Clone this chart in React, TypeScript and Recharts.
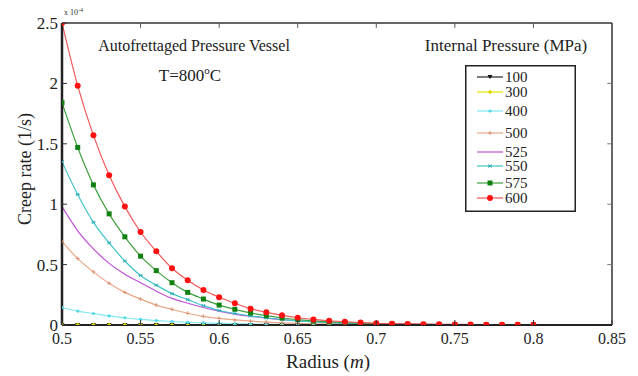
import { LineChart, Line, XAxis, YAxis, ReferenceLine } from 'recharts'

const radius = [0.5, 0.51, 0.52, 0.53, 0.54, 0.55, 0.56, 0.57, 0.58, 0.59, 0.6, 0.61, 0.62, 0.63, 0.64, 0.65, 0.66, 0.67, 0.68, 0.69, 0.7, 0.71, 0.72, 0.73, 0.74, 0.75, 0.76, 0.77, 0.78, 0.79, 0.8]

// creep rate, in units of 1e-4 1/s
const p100 = [0, 0, 0, 0, 0, 0, 0, 0, 0, 0, 0, 0, 0, 0, 0, 0, 0, 0, 0, 0, 0, 0, 0, 0, 0, 0, 0, 0, 0, 0, 0]
const p300 = [0.004, 0.003, 0.003, 0.002, 0.002, 0.002, 0.001, 0.001, 0.001, 0.001, 0.001, 0.001, 0, 0, 0, 0, 0, 0, 0, 0, 0, 0, 0, 0, 0, 0, 0, 0, 0, 0, 0]
const p400 = [0.145, 0.115, 0.095, 0.075, 0.06, 0.047, 0.037, 0.029, 0.022, 0.017, 0.013, 0.01, 0.008, 0.006, 0.005, 0.004, 0.003, 0.002, 0.002, 0.001, 0.001, 0.001, 0.001, 0, 0, 0, 0, 0, 0, 0, 0]
const p500 = [0.69, 0.55, 0.44, 0.345, 0.27, 0.215, 0.165, 0.13, 0.097, 0.072, 0.055, 0.042, 0.032, 0.024, 0.018, 0.014, 0.01, 0.008, 0.006, 0.004, 0.003, 0.002, 0.002, 0.001, 0.001, 0.001, 0.001, 0, 0, 0, 0]
const p525 = [0.98, 0.78, 0.63, 0.51, 0.42, 0.35, 0.28, 0.22, 0.18, 0.145, 0.115, 0.09, 0.072, 0.057, 0.045, 0.035, 0.027, 0.021, 0.016, 0.012, 0.009, 0.007, 0.005, 0.004, 0.003, 0.002, 0.002, 0.001, 0.001, 0.001, 0.001]
const p550 = [1.35, 1.08, 0.85, 0.68, 0.53, 0.41, 0.33, 0.26, 0.21, 0.16, 0.12, 0.095, 0.075, 0.058, 0.045, 0.034, 0.026, 0.02, 0.015, 0.011, 0.008, 0.006, 0.005, 0.004, 0.003, 0.002, 0.002, 0.001, 0.001, 0.001, 0.001]
const p575 = [1.84, 1.47, 1.16, 0.92, 0.73, 0.57, 0.45, 0.35, 0.27, 0.215, 0.165, 0.13, 0.1, 0.077, 0.058, 0.045, 0.034, 0.026, 0.02, 0.015, 0.011, 0.008, 0.006, 0.005, 0.004, 0.003, 0.002, 0.002, 0.001, 0.001, 0.001]
const p600 = [2.5, 1.98, 1.57, 1.24, 0.98, 0.77, 0.61, 0.47, 0.37, 0.29, 0.23, 0.18, 0.135, 0.105, 0.08, 0.06, 0.046, 0.035, 0.027, 0.02, 0.014, 0.011, 0.009, 0.007, 0.006, 0.005, 0.004, 0.003, 0.003, 0.002, 0.002]

const xTicks = [0.5, 0.55, 0.6, 0.65, 0.7, 0.75, 0.8, 0.85]
const yTicks = [0, 0.5, 1, 1.5, 2, 2.5]

const data = radius.map((r, i) => ({
    r,
    p100: p100[i],
    p300: p300[i],
    p400: p400[i],
    p500: p500[i],
    p525: p525[i],
    p550: p550[i],
    p575: p575[i],
    p600: p600[i],
}))

const FONT = '"Liberation Serif", "Times New Roman", serif'
const X_MIN = 0.5
const X_MAX = 0.85
const Y_MIN = 0
const Y_MAX = 2.5

type Shape = 'tri' | 'diamond' | 'dot' | 'plus' | 'none' | 'star' | 'square' | 'circle'

const series: { key: string; name: string; line: string; mark: string; shape: Shape }[] = [
    { key: 'p100', name: '100', line: '#222222', mark: '#111111', shape: 'tri' },
    { key: 'p300', name: '300', line: '#e8e800', mark: '#d8d800', shape: 'diamond' },
    { key: 'p400', name: '400', line: '#7ee8f2', mark: '#50d8e8', shape: 'dot' },
    { key: 'p500', name: '500', line: '#e8a888', mark: '#d89070', shape: 'plus' },
    { key: 'p525', name: '525', line: '#c050d8', mark: '#c050d8', shape: 'none' },
    { key: 'p550', name: '550', line: '#40c4c8', mark: '#30b0b8', shape: 'star' },
    { key: 'p575', name: '575', line: '#40a040', mark: '#108010', shape: 'square' },
    { key: 'p600', name: '600', line: '#f05858', mark: '#ff1010', shape: 'circle' },
]

function marker(shape: Shape, cx: number, cy: number, color: string, key?: string) {
    switch (shape) {
        case 'tri':
            return <path key={key} d={`M${cx - 2.5},${cy - 2}L${cx + 2.5},${cy - 2}L${cx},${cy + 2}Z`} fill={color} />
        case 'diamond':
            return <path key={key} d={`M${cx},${cy - 2.2}L${cx + 2.2},${cy}L${cx},${cy + 2.2}L${cx - 2.2},${cy}Z`} fill={color} />
        case 'dot':
            return <circle key={key} cx={cx} cy={cy} r={1.6} fill={color} />
        case 'plus':
            return <path key={key} d={`M${cx - 2},${cy}H${cx + 2}M${cx},${cy - 2}V${cy + 2}`} stroke={color} strokeWidth={0.9} />
        case 'star':
            return <path key={key} d={`M${cx - 1.6},${cy - 1.6}L${cx + 1.6},${cy + 1.6}M${cx - 1.6},${cy + 1.6}L${cx + 1.6},${cy - 1.6}M${cx - 2},${cy}H${cx + 2}`} stroke={color} strokeWidth={1} />
        case 'square':
            return <rect key={key} x={cx - 2.5} y={cy - 2.5} width={5} height={5} fill={color} />
        case 'circle':
            return <circle key={key} cx={cx} cy={cy} r={3} fill={color} />
        default:
            return <g key={key} />
    }
}

const makeDot = (shape: Shape, color: string) => (props: any) => {
    const { cx, cy, index } = props
    if (cx == null || cy == null) return <g key={`d${index}`} />
    return marker(shape, cx, cy, color, `d${index}`)
}

const BottomTick = (props: any) => {
    const { x, y, payload } = props
    return (
        <g>
            <line x1={x} x2={x} y1={y - 7} y2={y - 12} stroke="#333" />
            <text x={x} y={y} dy="0.75em" textAnchor="middle" fontFamily={FONT} fontSize={16} fill="#222">
                {payload.value}
            </text>
        </g>
    )
}

const LeftTick = (props: any) => {
    const { x, y, payload } = props
    return (
        <g>
            <line x1={x + 4} x2={x + 9} y1={y} y2={y} stroke="#333" />
            <text x={x} y={y} dy="0.35em" textAnchor="end" fontFamily={FONT} fontSize={17} fill="#222">
                {payload.value}
            </text>
        </g>
    )
}

// legend rows sit at uneven heights in the original
const legendRowY = [12, 27, 46, 68, 87, 101, 118, 133]

function PressureLegend() {
    return (
        <svg width={111} height={147} style={{ position: 'absolute', left: 465, top: 65, display: 'block' }}>
            <rect x={0.75} y={0.75} width={109.5} height={145.5} fill="#fff" stroke="#222" strokeWidth={1.5} />
            {series.map((s, i) => (
                <g key={s.key}>
                    <line x1={12} x2={38} y1={legendRowY[i]} y2={legendRowY[i]} stroke={s.line} strokeWidth={1.2} />
                    {marker(s.shape, 25, legendRowY[i], s.mark)}
                    <text x={40} y={legendRowY[i]} dy="0.35em" fontFamily={FONT} fontSize={15} fill="#222">
                        {s.name}
                    </text>
                </g>
            ))}
        </svg>
    )
}

// inner tick length on the top and right frame, in data units
const TOP_TICK = 0.04
const RIGHT_TICK = 0.003

export default function App() {
    return (
        <div style={{ position: 'absolute', left: 0, top: 0, width: 638, height: 376, background: '#fff', fontFamily: FONT }}>
            <LineChart width={638} height={376} data={data} margin={{ top: 23, right: 26, bottom: 21, left: 22 }}>
                <XAxis
                    dataKey="r"
                    type="number"
                    domain={[X_MIN, X_MAX]}
                    ticks={xTicks}
                    height={30}
                    tickSize={0}
                    tickMargin={7}
                    tickLine={false}
                    axisLine={{ stroke: '#222', strokeWidth: 2 }}
                    tick={<BottomTick />}
                    allowDataOverflow
                />
                <YAxis
                    type="number"
                    domain={[Y_MIN, Y_MAX]}
                    ticks={yTicks}
                    width={40}
                    tickSize={0}
                    tickMargin={4}
                    tickLine={false}
                    axisLine={{ stroke: '#222', strokeWidth: 2.5 }}
                    tick={<LeftTick />}
                    allowDataOverflow
                />
                <ReferenceLine y={Y_MAX} stroke="#333" strokeWidth={1.5} />
                <ReferenceLine x={X_MAX} stroke="#333" strokeWidth={1.5} />
                {xTicks.slice(1, -1).map((t) => (
                    <ReferenceLine
                        key={`tx${t}`}
                        segment={[{ x: t, y: Y_MAX }, { x: t, y: Y_MAX - TOP_TICK }]}
                        stroke="#555"
                    />
                ))}
                {yTicks.slice(1, -1).map((t) => (
                    <ReferenceLine
                        key={`ty${t}`}
                        segment={[{ x: X_MAX, y: t }, { x: X_MAX - RIGHT_TICK, y: t }]}
                        stroke="#777"
                    />
                ))}
                {series.map((s) => (
                    <Line
                        key={s.key}
                        dataKey={s.key}
                        name={s.name}
                        type="monotone"
                        stroke={s.line}
                        strokeWidth={1.2}
                        dot={makeDot(s.shape, s.mark)}
                        activeDot={false}
                        isAnimationActive={false}
                    />
                ))}
                <text x={64} y={15} fontFamily={FONT} fontSize={8} fill="#333">
                    x 10<tspan dy={-3} fontSize={6}>-4</tspan>
                </text>
                <text x={194} y={51} textAnchor="middle" fontFamily={FONT} fontSize={16} fill="#222">
                    Autofrettaged Pressure Vessel
                </text>
                <text x={190} y={81} textAnchor="middle" fontFamily={FONT} fontSize={17} fill="#222">
                    T=800<tspan dy={-7} fontSize={11}>o</tspan><tspan dy={7}>C</tspan>
                </text>
                <text x={506} y={51} textAnchor="middle" fontFamily={FONT} fontSize={17} fill="#222">
                    Internal Pressure (MPa)
                </text>
                <text x={25} y={169} dy="0.35em" textAnchor="middle" fontFamily={FONT} fontSize={18} fill="#222" transform="rotate(-90 25 169)">
                    Creep rate (1/s)
                </text>
                <text x={328} y={368} textAnchor="middle" fontFamily={FONT} fontSize={19} fill="#222">
                    Radius (<tspan fontStyle="italic">m</tspan>)
                </text>
            </LineChart>
            <PressureLegend />
        </div>
    )
}
